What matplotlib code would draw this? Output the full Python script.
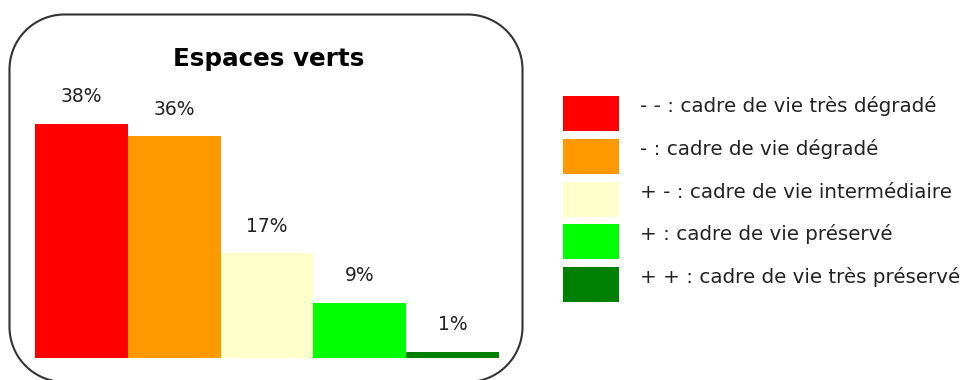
import matplotlib
matplotlib.use("Agg")
import numpy as np
import matplotlib.pyplot as plt
from matplotlib.patches import Rectangle, Polygon

categories = ["- - : cadre de vie très dégradé",
              "- : cadre de vie dégradé",
              "+ - : cadre de vie intermédiaire",
              "+ : cadre de vie préservé",
              "+ + : cadre de vie très préservé"]
values = [38, 36, 17, 9, 1]
value_labels = ["38%", "36%", "17%", "9%", "1%"]
colors = ["#FF0000", "#FF9900", "#FFFFCC", "#00FF00", "#008000"]
title = "Espaces verts"

W, H = 976, 380
plt.rcParams['font.family'] = ['DejaVu Sans']
fig = plt.figure(figsize=(W / 100, H / 100), dpi=100)
fig.patch.set_facecolor("white")

# overlay axes in pixel coordinates (y downwards)
ov = fig.add_axes([0, 0, 1, 1])
ov.set_xlim(0, W)
ov.set_ylim(H, 0)
ov.axis("off")


def rounded_rect(x0, y0, x1, y1, r, n=40):
    pts = []
    corners = [(x1 - r, y0 + r, -np.pi / 2, 0.0),       # top-right
               (x1 - r, y1 - r, 0.0, np.pi / 2),        # bottom-right
               (x0 + r, y1 - r, np.pi / 2, np.pi),      # bottom-left
               (x0 + r, y0 + r, np.pi, 1.5 * np.pi)]    # top-left
    for cx, cy, a0, a1 in corners:
        t = np.linspace(a0, a1, n)
        pts.extend(zip(cx + r * np.cos(t), cy + r * np.sin(t)))
    return np.array(pts)


frame = Polygon(rounded_rect(9.5, 14.5, 522.5, 382, 55), closed=True,
                fill=False, edgecolor="#333333", linewidth=1.5, clip_on=False)
ov.add_patch(frame)

# bar axes
ax_left, ax_right = 35, 499
ax_base, ax_top = 358, 15
ax = fig.add_axes([ax_left / W, 1 - ax_base / H, (ax_right - ax_left) / W, (ax_base - ax_top) / H])
px_per_unit = 6.16
ax.set_xlim(-0.5, len(values) - 0.5)
ax.set_ylim(0, (ax_base - ax_top) / px_per_unit)
x = list(range(len(values)))
ax.bar(x, values, width=1.0, color=colors, edgecolor="none")
for xi, v, lab in zip(x, values, value_labels):
    ax.text(xi, v + 27 / px_per_unit, lab, ha="center", va="center",
            fontsize=13.5, color="#222222")
ax.axis("off")

ov.text(269, 66, title, ha="center", va="baseline",
        fontsize=17.7, fontweight="bold", color="black")

# legend
for i, (c, lab) in enumerate(zip(colors, categories)):
    top = 96 + i * 42.8
    ov.add_patch(Rectangle((563, top), 56, 35, facecolor=c, edgecolor="none"))
    ov.text(640, top + 16, lab, ha="left", va="baseline",
            fontsize=14.3, color="#222222")

fig.savefig("out.png", dpi=100, facecolor="white")
